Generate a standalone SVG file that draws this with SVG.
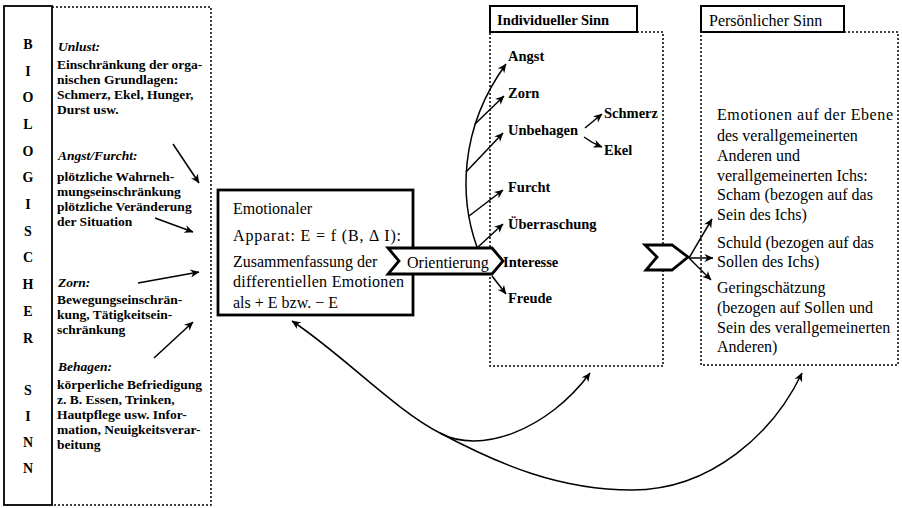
<svg xmlns="http://www.w3.org/2000/svg" width="902" height="508" viewBox="0 0 902 508">
<defs>
<marker id="ah" viewBox="0 0 10 10" refX="9.5" refY="5" markerWidth="9" markerHeight="9" markerUnits="userSpaceOnUse" orient="auto"><path d="M0,0.5 L10,5 L0,9.5 L3,5 Z" fill="#000"/></marker>
<style>
.dot{fill:none;stroke:#000;stroke-width:1.5;stroke-dasharray:2 2}
.solid{fill:#fff;stroke:#000;stroke-width:2}
.thick{fill:#fff;stroke:#000;stroke-width:2.8}
.con{fill:none;stroke:#000;stroke-width:1.5;marker-end:url(#ah)}
text{font-family:"Liberation Serif","Times New Roman",serif;fill:#000}
.ltr{font-weight:bold;font-size:14px;text-anchor:middle}
.lh{font-weight:bold;font-style:italic;font-size:13.5px}
.lb{font-weight:bold;font-size:13.5px}
.t16{font-size:16px}
.b14{font-weight:bold;font-size:14.5px}
</style>
</defs>
<rect width="902" height="508" fill="#fff"/>

<g id="biologischer-sinn">
<rect x="4" y="6" width="48" height="499" fill="none" stroke="#000" stroke-width="1.8"/>
<text class="ltr" x="28" y="49">B</text>
<text class="ltr" x="28" y="76">I</text>
<text class="ltr" x="28" y="102">O</text>
<text class="ltr" x="28" y="129">L</text>
<text class="ltr" x="28" y="156">O</text>
<text class="ltr" x="28" y="182">G</text>
<text class="ltr" x="28" y="209">I</text>
<text class="ltr" x="28" y="236">S</text>
<text class="ltr" x="28" y="262">C</text>
<text class="ltr" x="28" y="289">H</text>
<text class="ltr" x="28" y="316">E</text>
<text class="ltr" x="28" y="343">R</text>
<text class="ltr" x="28" y="395">S</text>
<text class="ltr" x="28" y="421">I</text>
<text class="ltr" x="28" y="447">N</text>
<text class="ltr" x="28" y="473">N</text>
</g>

<g id="biologische-grundlagen">
<path class="dot" d="M52,7 H211 V505 H52"/>
<text class="lh" x="58" y="51">Unlust:</text>
<text class="lb" x="57" y="69">Einschränkung der orga-</text>
<text class="lb" x="57" y="84">nischen Grundlagen:</text>
<text class="lb" x="57" y="99">Schmerz, Ekel, Hunger,</text>
<text class="lb" x="57" y="114">Durst usw.</text>
<text class="lh" x="58" y="160">Angst/Furcht:</text>
<text class="lb" x="57" y="181">plötzliche Wahrneh-</text>
<text class="lb" x="57" y="196">mungseinschränkung</text>
<text class="lb" x="57" y="211">plötzliche Veränderung</text>
<text class="lb" x="57" y="226">der Situation</text>
<text class="lh" x="58" y="287">Zorn:</text>
<text class="lb" x="57" y="304">Bewegungseinschrän-</text>
<text class="lb" x="57" y="319">kung, Tätigkeitsein-</text>
<text class="lb" x="57" y="334">schränkung</text>
<text class="lh" x="58" y="371">Behagen:</text>
<text class="lb" x="57" y="389">körperliche Befriedigung</text>
<text class="lb" x="57" y="404">z. B. Essen, Trinken,</text>
<text class="lb" x="57" y="419">Hautpflege usw. Infor-</text>
<text class="lb" x="57" y="434">mation, Neuigkeitsverar-</text>
<text class="lb" x="57" y="449">beitung</text>
</g>

<g id="individueller-sinn">
<path class="dot" d="M637,32 H663 V366 H490 V32"/>
<rect class="solid" x="490" y="6" width="147" height="26"/>
<text class="b14" x="497" y="25">Individueller Sinn</text>
<text class="b14" x="508" y="61">Angst</text>
<text class="b14" x="508" y="98">Zorn</text>
<text class="b14" x="508" y="135">Unbehagen</text>
<text class="b14" x="604" y="118">Schmerz</text>
<text class="b14" x="604" y="155">Ekel</text>
<text class="b14" x="508" y="192">Furcht</text>
<text class="b14" x="508" y="229">Überraschung</text>
<text class="b14" x="503" y="267">Interesse</text>
<text class="b14" x="508" y="303">Freude</text>
</g>

<g id="persoenlicher-sinn">
<path class="dot" d="M844,32 H898 V365 H701 V32"/>
<rect class="solid" x="701" y="6" width="143" height="26"/>
<text class="t16" x="709" y="26" font-size="15.5">Persönlicher Sinn</text>
<text class="t16" x="717" y="120" textLength="176" lengthAdjust="spacing">Emotionen auf der Ebene</text>
<text class="t16" x="717" y="141">des verallgemeinerten</text>
<text class="t16" x="717" y="161">Anderen und</text>
<text class="t16" x="717" y="181">verallgemeinerten Ichs:</text>
<text class="t16" x="717" y="200">Scham (bezogen auf das</text>
<text class="t16" x="717" y="220">Sein des Ichs)</text>
<text class="t16" x="717" y="248">Schuld (bezogen auf das</text>
<text class="t16" x="717" y="267">Sollen des Ichs)</text>
<text class="t16" x="717" y="293">Geringschätzung</text>
<text class="t16" x="717" y="313">(bezogen auf Sollen und</text>
<text class="t16" x="717" y="333">Sein des verallgemeinerten</text>
<text class="t16" x="717" y="352">Anderen)</text>
</g>

<g id="emotionaler-apparat">
<rect class="thick" x="218" y="190" width="195" height="125"/>
<text class="t16" x="233" y="214">Emotionaler</text>
<text class="t16" x="233" y="241" textLength="168" lengthAdjust="spacing">Apparat: E = f (B, Δ I):</text>
<text class="t16" x="233" y="267">Zusammenfassung der</text>
<text class="t16" x="233" y="287" textLength="171" lengthAdjust="spacing">differentiellen Emotionen</text>
<text class="t16" x="233" y="308">als + E bzw. − E</text>
</g>

<g id="connectors">
<path class="con" d="M173,144 L199,183"/>
<path class="con" d="M155,218 L193,232"/>
<path class="con" d="M138,283 L199,272"/>
<path class="con" d="M154,358 L193,322"/>
<path class="con" d="M477,247 C460,200 458,130 506,64"/>
<path class="con" d="M475,124 L504,96"/>
<path class="con" d="M466,172 L503,133"/>
<path class="con" d="M469,216 L503,190"/>
<path class="con" d="M478,247 L503,224"/>
<path class="con" d="M492,276 L506,294"/>
<path class="con" d="M585,128 L602,114"/>
<path class="con" d="M584,137 Q592,143 602,147"/>
<path class="con" d="M689,258 L712,219"/>
<path class="con" d="M689,258 L713,258"/>
<path class="con" d="M689,258 L711,280"/>
<path class="con" d="M440,433 C395,410 342,354 292,321"/>
<path class="con" d="M440,433 C480,455 548,430 590,373"/>
<path class="con" d="M440,433 C500,465 560,490 632,490 C712,490 774,432 802,373"/>
</g>

<g id="orientierung">
<polygon class="thick" stroke-width="2.5" points="388,248 492,248 503,261 492,274 388,274 399,261"/>
<text class="t16" x="407" y="268" font-size="16.5">Orientierung</text>
</g>

<g id="uebergang">
<polygon class="thick" stroke-width="3" points="645,245 672,245 688,257 672,270 646,270 657,257"/>
</g>
</svg>
